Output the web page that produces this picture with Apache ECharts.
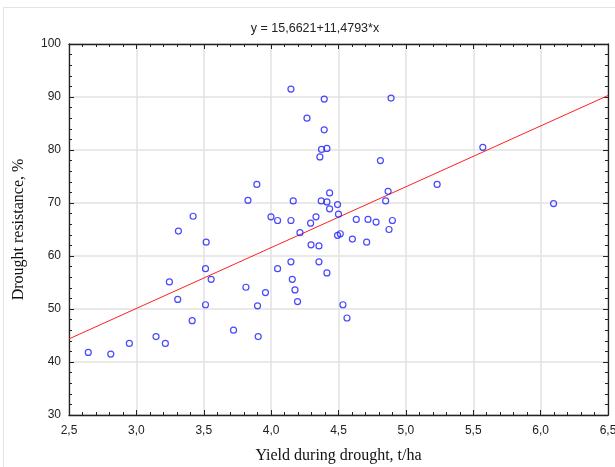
<!DOCTYPE html>
<html>
<head>
<meta charset="utf-8">
<script src="https://cdn.jsdelivr.net/npm/echarts@6/dist/echarts.min.js"></script>
<style>html,body{margin:0;padding:0;background:#fff}#c{width:615px;height:467px}</style>
</head>
<body>
<div id="c"></div>
<script>
// Yield during drought, t/ha
const yieldX = [2.643,2.810,2.948,3.146,3.215,3.245,3.307,3.312,3.414,3.421,3.513,3.513,3.518,3.555,3.721,3.813,3.828,3.894,3.899,3.904,3.958,3.999,4.048,4.048,4.147,4.147,4.147,4.157,4.164,4.177,4.196,4.214,4.266,4.293,4.296,4.333,4.355,4.355,4.362,4.372,4.374,4.394,4.394,4.414,4.414,4.414,4.434,4.434,4.493,4.493,4.500,4.513,4.533,4.563,4.603,4.632,4.709,4.719,4.779,4.811,4.850,4.868,4.875,4.890,4.900,5.232,5.571,6.096];
// Drought resistance, %
const resistY = [41.8,41.5,43.5,44.8,43.5,55.1,51.8,64.7,47.8,67.5,57.6,50.8,62.6,55.6,46.0,54.1,70.5,73.5,50.6,44.8,53.1,67.4,66.7,57.6,91.5,66.7,58.9,55.6,70.4,53.6,51.4,64.4,86.0,66.2,62.1,67.4,61.9,58.9,78.7,70.4,80.1,89.6,83.8,80.3,70.2,56.8,71.9,68.9,69.7,63.9,67.9,64.2,50.8,48.3,63.2,66.9,62.6,66.9,66.4,78.0,70.4,72.2,65.0,89.8,66.7,73.5,80.5,69.9];
// regression y = a + b*x
const intercept = 15.6621;
const slope = 11.4793;
const xRange = [2.5, 6.5];
const yRange = [30, 100];
const titleText = 'y = 15,6621+11,4793*x';
const xName = 'Yield during drought, t/ha';
const yName = 'Drought resistance, %';

const pts = yieldX.map((x, i) => [x, resistY[i]]);
const fit = xRange.map(x => [x, intercept + slope * x]);

const chart = echarts.init(document.getElementById('c'), null, {renderer: 'canvas'});
const lab = {fontFamily: 'Liberation Sans, Arial, sans-serif', fontSize: 12, color: '#222'};
const nameStyle = {fontFamily: 'Liberation Serif, Times New Roman, serif', fontSize: 16, color: '#111'};
const axLine = {show: true, lineStyle: {color: '#222', width: 1.3}};
const baseX = {
  type: 'value', min: xRange[0], max: xRange[1], interval: 0.5,
  axisLine: axLine,
  axisTick: {show: true, inside: true, length: 5, lineStyle: {color: '#222'}},
  minorTick: {show: true, splitNumber: 5, length: 3, lineStyle: {color: '#222'}},
};
const baseY = {
  type: 'value', min: yRange[0], max: yRange[1], interval: 10,
  axisLine: axLine,
  axisTick: {show: true, inside: true, length: 5, lineStyle: {color: '#222'}},
  minorTick: {show: true, splitNumber: 5, length: 3, lineStyle: {color: '#222'}},
};
chart.setOption({
  animation: false,
  backgroundColor: '#fff',
  title: {
    text: titleText, left: 310, top: 17, textAlign: 'center',
    textStyle: {fontFamily: 'Liberation Sans, Arial, sans-serif', fontSize: 12.5, fontWeight: 'normal', color: '#222'}
  },
  graphic: [
    {type: 'line', shape: {x1: 3.5, y1: 7, x2: 3.5, y2: 467}, style: {stroke: '#e3e3e3', lineWidth: 1}},
    {type: 'line', shape: {x1: 3, y1: 7.5, x2: 615, y2: 7.5}, style: {stroke: '#e3e3e3', lineWidth: 1}}
  ],
  grid: {left: 69, right: 7, top: 44, bottom: 52, containLabel: false, outerBoundsMode: 'none'},
  xAxis: [
    Object.assign({}, baseX, {
      position: 'bottom',
      name: xName, nameLocation: 'middle', nameGap: 33, nameTextStyle: nameStyle,
      axisLabel: Object.assign({}, lab, {margin: 10, formatter: v => v.toFixed(1).replace('.', ',')}),
      splitLine: {show: true, lineStyle: {color: '#e2e2e2', width: 1.5}}
    }),
    Object.assign({}, baseX, {position: 'top', axisLabel: {show: false}, splitLine: {show: false}})
  ],
  yAxis: [
    Object.assign({}, baseY, {
      position: 'left',
      name: yName, nameLocation: 'middle', nameGap: 42, nameTextStyle: nameStyle,
      axisLabel: Object.assign({}, lab, {margin: 8}),
      splitLine: {show: true, lineStyle: {color: '#e2e2e2', width: 1.5}}
    }),
    Object.assign({}, baseY, {position: 'right', axisLabel: {show: false}, splitLine: {show: false}})
  ],
  series: [
    {
      type: 'line', data: fit, showSymbol: false, symbol: 'none',
      lineStyle: {color: '#ff2020', width: 1}, z: 2, silent: true
    },
    {
      type: 'scatter', data: pts, symbol: 'circle', symbolSize: 6,
      itemStyle: {color: 'rgba(255,255,255,0)', borderColor: '#1a1aff', borderWidth: 1.2}, z: 3
    }
  ]
});
</script>
</body>
</html>
